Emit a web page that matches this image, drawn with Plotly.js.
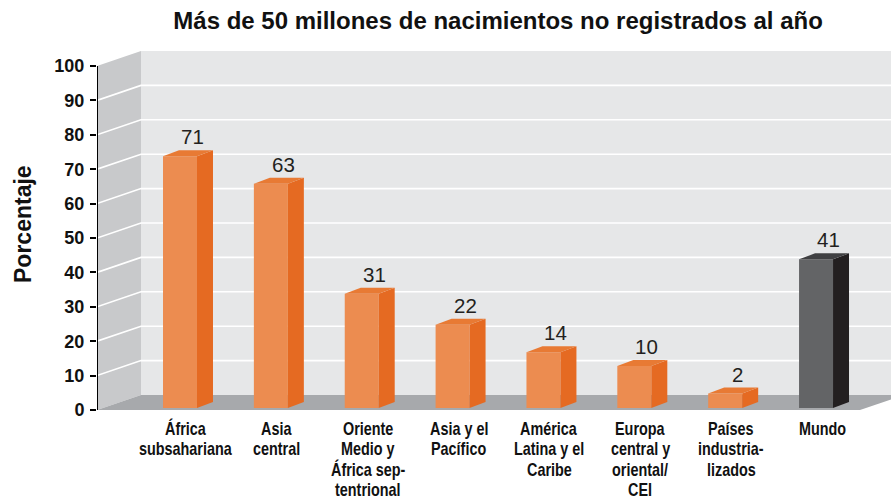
<!DOCTYPE html>
<html>
<head>
<meta charset="utf-8">
<script src="https://cdn.plot.ly/plotly-3.0.1.min.js"></script>
<style>
html,body{margin:0;padding:0;background:#fff;}
#chart{width:891px;height:499px;}
/* condensed bold look for the category labels (18px annotations only) */
text.annotation-text[style*="font-size: 18px"]{
  transform: scaleX(0.8); transform-box: fill-box; transform-origin: center;
}
</style>
</head>
<body>
<div id="chart"></div>
<script>
// ---- data ----
const categories = [
  "África<br>subsahariana",
  "Asia<br>central",
  "Oriente<br>Medio y<br>África sep-<br>tentrional",
  "Asia y el<br>Pacífico",
  "América<br>Latina y el<br>Caribe",
  "Europa<br>central y<br>oriental/<br>CEI",
  "Países<br>industria-<br>lizados",
  "Mundo"
];
const values = [71, 63, 31, 22, 14, 10, 2, 41];
const yTickVals = [0, 10, 20, 30, 40, 50, 60, 70, 80, 90, 100];
const gridLevels = [10, 20, 30, 40, 50, 60, 70, 80, 90];
const titleText = "Más de 50 millones de nacimientos no registrados al año";
const yTitleText = "Porcentaje";

// ---- geometry (axis units) ----
const X0 = -0.9135, X1 = 7.825;
const WALL_DX = 0.4843, WALL_DY = 4.36;
const FLOOR_END = 7.484;
const BAR_HALF = 0.187, BAR_DX = 0.176, BAR_DY = 1.74, BAR_BASE = -2.2;

const SANS = "Liberation Sans, Arial, Helvetica, sans-serif";

const orange = {front: "#ec8c50", side: "#e56a22", top: "#e87a34"};
const grey = {front: "#636466", side: "#231f20", top: "#404042"};

const traces = [];

// gridlines on back wall and side wall
gridLevels.forEach(g => {
  traces.push({
    type: "scatter", mode: "lines", xaxis: "x", yaxis: "y",
    x: [X0, X0 + WALL_DX, X1 + 1], y: [g, g + WALL_DY, g + WALL_DY],
    line: {color: "#ffffff", width: 1.6}, hoverinfo: "skip", showlegend: false
  });
});

// 3D bars
values.forEach((v, i) => {
  const c = categories[i] === "Mundo" ? grey : orange;
  const xl = i - BAR_HALF, xr = i + BAR_HALF;
  traces.push({
    type: "scatter", mode: "none", fill: "toself", fillcolor: c.front, xaxis: "x", yaxis: "y2",
    x: [xl, xr, xr, xl], y: [BAR_BASE, BAR_BASE, v, v], hoverinfo: "skip", showlegend: false
  });
  traces.push({
    type: "scatter", mode: "none", fill: "toself", fillcolor: c.side, xaxis: "x", yaxis: "y2",
    x: [xr, xr + BAR_DX, xr + BAR_DX, xr], y: [BAR_BASE, BAR_BASE + BAR_DY, v + BAR_DY, v],
    hoverinfo: "skip", showlegend: false
  });
  traces.push({
    type: "scatter", mode: "none", fill: "toself", fillcolor: c.top, xaxis: "x", yaxis: "y2",
    x: [xl, xr, xr + BAR_DX, xl + BAR_DX], y: [v, v, v + BAR_DY, v + BAR_DY],
    hoverinfo: "skip", showlegend: false
  });
});

// walls as background shapes
const P = (pts) => "M" + pts.map(p => p[0] + "," + p[1]).join(" L") + " Z";
const shapes = [
  {type: "path", xref: "x", yref: "y", layer: "below", line: {width: 0}, fillcolor: "#e6e7e8",
   path: P([[X0 + WALL_DX, WALL_DY], [X1 + 1, WALL_DY], [X1 + 1, 100 + WALL_DY], [X0 + WALL_DX, 100 + WALL_DY]])},
  {type: "path", xref: "x", yref: "y", layer: "below", line: {width: 0}, fillcolor: "#c8c9cb",
   path: P([[X0, 0], [X0, 100], [X0 + WALL_DX, 100 + WALL_DY], [X0 + WALL_DX, WALL_DY]])},
  {type: "path", xref: "x", yref: "y", layer: "below", line: {width: 0}, fillcolor: "#a7a9ac",
   path: P([[X0, 0], [FLOOR_END, 0], [FLOOR_END + WALL_DX, WALL_DY], [X0 + WALL_DX, WALL_DY]])},
  {type: "line", xref: "x", yref: "y", layer: "above", x0: X0, x1: X0, y0: 0, y1: 100,
   line: {color: "#000000", width: 2}}
];

const annotations = [];
values.forEach((v, i) => {
  annotations.push({
    xref: "x", yref: "y2", x: i + 0.138, y: v + BAR_DY, yanchor: "bottom", xanchor: "center",
    text: String(v), showarrow: false, font: {family: SANS, size: 20.5, color: "#231f20"}
  });
});
categories.forEach((cat, i) => {
  cat.split("<br>").forEach((line, k) => {
    annotations.push({
      xref: "x", yref: "paper", x: i + 0.066, y: 0, yanchor: "middle", xanchor: "center",
      yshift: -(15.5 + 20.5 * k), text: line, showarrow: false,
      font: {family: SANS, size: 18, color: "#111111", weight: "bold"}
    });
  });
});
annotations.push({
  xref: "paper", yref: "paper", x: 0, y: 0.5165, xshift: -74, xanchor: "center", yanchor: "middle",
  text: yTitleText, textangle: -90, showarrow: false,
  font: {family: SANS, size: 23, color: "#111111", weight: "bold"}
});

const layout = {
  width: 891, height: 499,
  margin: {l: 97, r: 0, t: 48, b: 87, pad: 0},
  paper_bgcolor: "#ffffff", plot_bgcolor: "#ffffff",
  showlegend: false, hovermode: false,
  title: {text: titleText, xref: "container", yref: "container", x: 0.559, y: 0.958,
          xanchor: "center", yanchor: "middle",
          font: {family: SANS, size: 24, color: "#111111", weight: "bold"}},
  xaxis: {range: [X0, X1], showgrid: false, zeroline: false, showline: false,
          showticklabels: false, ticks: "", fixedrange: true},
  yaxis: {range: [-0.58, 105.23], tickvals: yTickVals, ticktext: yTickVals.map(String),
          ticks: "outside", ticklen: 6, tickwidth: 2, tickcolor: "#000000",
          showgrid: false, zeroline: false, showline: false, ticklabelstandoff: 2,
          tickfont: {family: SANS, size: 18, color: "#111111", weight: "bold"}},
  yaxis2: {range: [-3.372, 102.44], overlaying: "y", visible: false, showgrid: false, zeroline: false},
  shapes: shapes,
  annotations: annotations
};

Plotly.newPlot("chart", traces, layout, {staticPlot: true, displayModeBar: false});
</script>
</body>
</html>
